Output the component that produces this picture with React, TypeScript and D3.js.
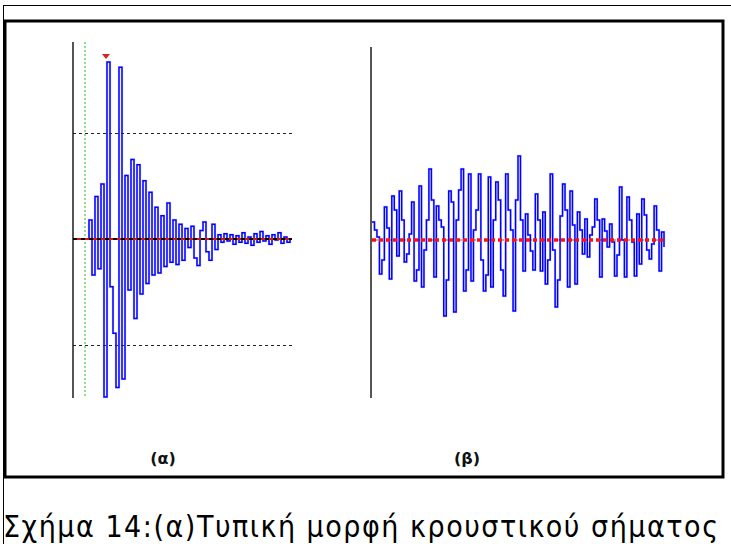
import React from "react";
import * as d3 from "d3";

// (α) impact signal, amplitude units (alarm thresholds at ±100)
const impactValues = [
  0, 18, -34, 40, -28, 52, -149, 167, -45, -89, -140, 162, -132, 60, -48, 75,
  -75, 70, -52, 55, -42, 44, -34, 30, -32, 22, -26, 34, -22, 18, -24, 14, -20,
  10, -8, 12, -18, -25, 8, 16, -12, -20, 14, -10, 4, -3, 5, -2, 4, -5, 3, -3, 6,
  -4, 2, -6, 5, -3, 7, -2, 3, -5, 4, -1, 6, -4, 2, -3, 0,
];

// (β) continuous signal, same units
const noiseValues = [
  18, 10, 3, -34, -20, 33, 12, -39, 44, 30, -16, 49, 20, -22, -14, 6, 38, -41,
  -30, 54, -47, -10, 20, 71, 40, -37, 34, 20, 13, -76, -40, 49, 38, -72, 20, 50,
  71, -51, -30, 66, -41, 10, 30, 66, -20, -51, -35, 63, -47, 20, 58, 40, -30,
  -56, 66, 30, 10, -71, 40, 84, 20, -31, 26, 5, -11, -30, 46, 20, -31, 28, -44,
  -20, 66, -10, -67, -40, 24, 56, 30, -47, 49, 15, -44, 28, 10, -14, 21, -17, 5,
  13, 41, 20, -37, 21, 9, -7, 16, -2, -36, -15, 53, 0, -37, 43, 20, -2, -36, 26,
  -24, 41, 25, -10, -19, -4, 34, 10, -31, 8, -7,
];

const thresholds = [100, -100];
const panelLabels = ["(α)", "(β)"];
const caption = "Σχήμα 14:(α)Τυπική μορφή κρουστικού σήματος";

const W = 731;
const H = 544;

export default function App() {
  // panel α scales
  const xA = d3.scaleLinear().domain([0, impactValues.length - 1]).range([86, 290]);
  const yA = d3.scaleLinear().domain([-100, 100]).range([345, 133]);
  // panel β scales
  const xB = d3.scaleLinear().domain([0, noiseValues.length - 1]).range([372, 664]);
  const yB = d3.scaleLinear().domain([-100, 100]).range([340, 140]);

  const lineA = d3
    .line<number>()
    .x((_, i) => xA(i))
    .y((d) => yA(d))
    .curve(d3.curveStepAfter);
  const lineB = d3
    .line<number>()
    .x((_, i) => xB(i))
    .y((d) => yB(d))
    .curve(d3.curveStepAfter);

  const peakIdx = d3.maxIndex(impactValues);
  const px = xA(peakIdx) - 1;
  const py = yA(impactValues[peakIdx]) - 4;

  return (
    <svg
      width={W}
      height={H}
      style={{ position: "absolute", left: 0, top: 0, background: "#fff" }}
    >
      {/* frame lines */}
      <line x1={3} y1={5.5} x2={W} y2={5.5} stroke="#000" strokeWidth={1} />
      <line x1={3.5} y1={5} x2={3.5} y2={H} stroke="#000" strokeWidth={1} />
      <rect x={5} y={21} width={718} height={456} fill="none" stroke="#000" strokeWidth={3} />

      {/* panel α */}
      <line x1={73} y1={42} x2={73} y2={398} stroke="#555" strokeWidth={2} />
      <line x1={85} y1={42} x2={85} y2={398} stroke="#55cc55" strokeWidth={1.3} strokeDasharray="2,2" />
      {thresholds.map((t) => (
        <line
          key={t}
          x1={73}
          x2={292}
          y1={Math.round(yA(t)) + 0.5}
          y2={Math.round(yA(t)) + 0.5}
          stroke="#222"
          strokeWidth={1}
          strokeDasharray="3,3"
        />
      ))}
      <path d={lineA(impactValues) || ""} fill="none" stroke="#9090ff" strokeWidth={2.4} opacity={0.35} />
      <path d={lineA(impactValues) || ""} fill="none" stroke="#0000ff" strokeWidth={1.5} />
      <line x1={73} x2={292} y1={yA(0)} y2={yA(0)} stroke="#000" strokeWidth={2} strokeDasharray="4,4" />
      <line x1={77} x2={292} y1={yA(0)} y2={yA(0)} stroke="#e01010" strokeWidth={2} strokeDasharray="4,4" />
      <path
        d={`M${px - 4},${py - 4}L${px + 4},${py - 4}L${px},${py + 1}Z`}
        fill="#e02020"
      />

      {/* panel β */}
      <line x1={371} y1={47} x2={371} y2={398} stroke="#555" strokeWidth={2} />
      <path d={lineB(noiseValues) || ""} fill="none" stroke="#9090ff" strokeWidth={2.4} opacity={0.35} />
      <path d={lineB(noiseValues) || ""} fill="none" stroke="#0000ff" strokeWidth={1.5} />
      <line x1={372} x2={664} y1={yB(0)} y2={yB(0)} stroke="#ff1010" strokeWidth={3.5} strokeDasharray="4,3" />
      <line x1={376} x2={664} y1={yB(0)} y2={yB(0)} stroke="#000" strokeWidth={1} strokeDasharray="2,12" opacity={0.6} />

      {/* panel labels */}
      {panelLabels.map((l, i) => (
        <text
          key={l}
          x={i === 0 ? 163 : 467}
          y={464}
          textAnchor="middle"
          fontFamily="DejaVu Sans"
          fontWeight="bold"
          fontSize={16}
          fill="#111"
        >
          {l}
        </text>
      ))}

      {/* caption */}
      <text
        x={3}
        y={537}
        fontFamily="'DejaVu Sans Condensed', 'DejaVu Sans'"
        fontSize={30}
        fill="#000"
        textLength={715}
        lengthAdjust="spacing"
      >
        {caption}
      </text>
    </svg>
  );
}
